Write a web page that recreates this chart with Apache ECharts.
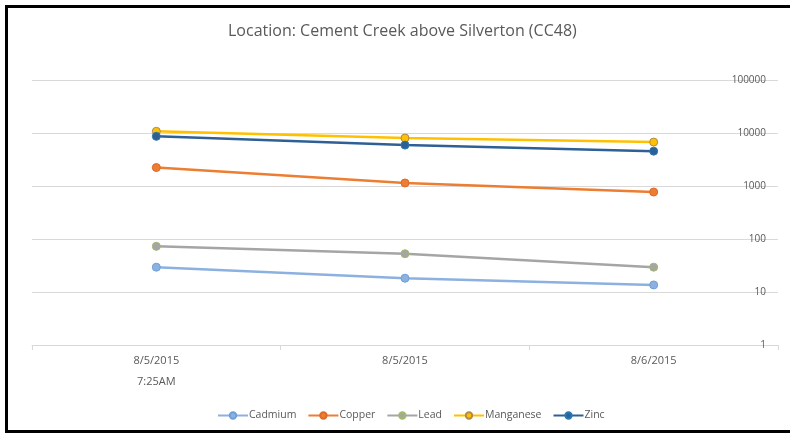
<!DOCTYPE html>
<html>
<head>
<meta charset="utf-8">
<script src="https://cdn.jsdelivr.net/npm/echarts@6/dist/echarts.min.js"></script>
<style>
	html,body{margin:0;padding:0;background:#fff;}
	#chart{width:790px;height:434px;}
</style>
</head>
<body>
<div id="chart"></div>
<script>
	// 采样日期
	var categories = ['8/5/2015\n7:25AM', '8/5/2015', '8/6/2015'];
	// 各金属浓度
	var cadmium = [29.4, 18.2, 13.6];
	var copper = [2230, 1140, 770];
	var lead = [72.6, 52.7, 29.4];
	var manganese = [10760, 8040, 6740];
	var zinc = [8650, 5910, 4550];

	var seriesNames = ['Cadmium', 'Copper', 'Lead', 'Manganese', 'Zinc'];
	var seriesData = [cadmium, copper, lead, manganese, zinc];
	var lineColors = ['#8CB1E1', '#ED7D31', '#A5A5A5', '#FFC000', '#2E5F95'];
	var markerBorders = ['#6F9FD8', '#E0692A', '#A3B86C', '#B08A4A', '#2A7AB0'];

	function buildSeries(){
		var results = [];
		for(var i = 0;i < seriesNames.length;i++){
			results.push({
				name: seriesNames[i],
				type: 'line',
				data: seriesData[i],
				symbol: 'circle',
				symbolSize: 8,
				lineStyle: {width: 2.5, color: lineColors[i]},
				itemStyle: {color: lineColors[i], borderColor: markerBorders[i], borderWidth: 1},
				emphasis: {disabled: true},
				animation: false
			});
		}
		return results;
	}

	var chart = echarts.init(document.getElementById('chart'));
	var option = {
		backgroundColor: '#fff',
		title: {
			text: 'Location: Cement Creek above Silverton (CC48)',
			left: 223,
			top: 18,
			textStyle: {fontFamily: 'Open Sans', fontSize: 16, fontWeight: 'normal', color: '#595959'}
		},
		graphic: [{
			type: 'rect',
			shape: {x: 6.5, y: 6.5, width: 1000, height: 425},
			style: {fill: 'none', stroke: '#000', lineWidth: 3},
			silent: true
		}],
		legend: {
			data: seriesNames,
			bottom: 8,
			left: 212,
			itemWidth: 30,
			itemHeight: 8,
			itemGap: 11,
			textStyle: {fontFamily: 'Open Sans', fontSize: 10.5, color: '#595959', padding: [0, 0, 0, -4]}
		},
		grid: {left: 32, right: 12, top: 80, bottom: 89},
		xAxis: {
			type: 'category',
			data: categories,
			boundaryGap: true,
			axisLine: {lineStyle: {color: '#D9D9D9'}},
			axisTick: {show: true, length: 5, lineStyle: {color: '#D9D9D9'}},
			axisLabel: {fontFamily: 'Open Sans', fontSize: 11, color: '#595959', margin: 5, lineHeight: 21}
		},
		yAxis: {
			type: 'log',
			logBase: 10,
			min: 1,
			max: 100000,
			position: 'right',
			axisLine: {show: false},
			axisTick: {show: false},
			splitLine: {lineStyle: {color: '#D9D9D9'}},
			axisLabel: {
				inside: true, margin: 12, fontFamily: 'Open Sans', fontSize: 10, color: '#595959',
				formatter: function(value){
					return String(Math.round(value));
				}
			}
		},
		series: buildSeries()
	};
	chart.setOption(option);
</script>
</body>
</html>
